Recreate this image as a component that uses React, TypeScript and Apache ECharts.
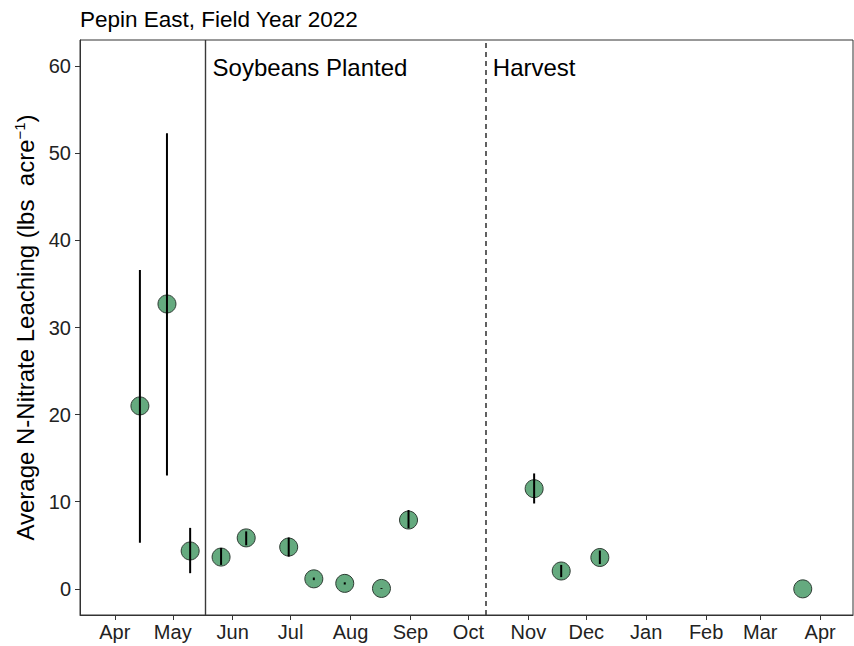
import React, { useEffect, useRef } from "react";
import * as echarts from "echarts";

const titleText = "Pepin East, Field Year 2022";
const sampleDates = [
  "2022-04-14", "2022-04-28", "2022-05-10", "2022-05-26", "2022-06-08",
  "2022-06-30", "2022-07-13", "2022-07-29", "2022-08-17", "2022-08-31",
  "2022-11-04", "2022-11-18", "2022-12-08", "2023-03-23",
];
const meanValues = [21.0, 32.7, 4.35, 3.65, 5.85, 4.8, 1.15, 0.63, 0.05, 7.9, 11.5, 2.05, 3.6, 0.0];
const lowValues = [5.3, 13.0, 1.8, 2.75, 5.0, 3.7, 1.0, 0.5, 0.0, 6.95, 9.8, 1.35, 2.85, 0.0];
const highValues = [36.6, 52.3, 7.0, 4.7, 6.6, 5.9, 1.3, 0.75, 0.1, 9.05, 13.25, 2.75, 4.4, 0.0];
const monthTicks = [
  "2022-04-01", "2022-05-01", "2022-06-01", "2022-07-01", "2022-08-01", "2022-09-01",
  "2022-10-01", "2022-11-01", "2022-12-01", "2023-01-01", "2023-02-01", "2023-03-01", "2023-04-01",
];
const monthNames = ["Jan", "Feb", "Mar", "Apr", "May", "Jun", "Jul", "Aug", "Sep", "Oct", "Nov", "Dec"];
const yTicks = [0, 10, 20, 30, 40, 50, 60];
const xRange = ["2022-03-14", "2023-04-18"];
const yRange = [-3, 63];
const events = [
  { date: "2022-05-18", label: "Soybeans Planted", type: "solid" },
  { date: "2022-10-10", label: "Harvest", type: "dashed" },
];

const ts = (s: string) => {
  const [y, m, d] = s.split("-").map(Number);
  return Date.UTC(y, m - 1, d);
};

export default function App() {
  const ref = useRef<HTMLDivElement>(null);
  useEffect(() => {
    if (!ref.current) return;
    const chart = echarts.init(ref.current, null, { renderer: "svg" });
    const font = "Liberation Sans, Arial, sans-serif";
    const option: any = {
      animation: false,
      backgroundColor: "#ffffff",
      textStyle: { fontFamily: font },
      title: {
        text: titleText,
        left: 75,
        top: 3,
        textStyle: { fontSize: 22.5, fontWeight: "normal", color: "#000", fontFamily: font },
      },
      grid: {
        left: 80, right: 1, top: 40, bottom: 31,
        show: true, borderColor: "#333", borderWidth: 1, backgroundColor: "transparent",
      },
      xAxis: {
        type: "value",
        min: ts(xRange[0]),
        max: ts(xRange[1]),
        splitLine: { show: false },
        axisLine: { show: true, onZero: false, lineStyle: { color: "#333", width: 1 } },
        axisTick: { show: true, length: 5, lineStyle: { color: "#333" }, customValues: monthTicks.map(ts) },
        axisLabel: {
          customValues: monthTicks.map(ts),
          formatter: (v: number) => monthNames[new Date(v).getUTCMonth()],
          fontSize: 20, color: "#222", margin: 7, fontFamily: font,
        },
      },
      yAxis: {
        type: "value",
        min: yRange[0],
        max: yRange[1],
        splitLine: { show: false },
        axisLine: { show: true, onZero: false, lineStyle: { color: "#333", width: 1 } },
        axisTick: { show: true, length: 5, lineStyle: { color: "#333" }, customValues: yTicks },
        axisLabel: { customValues: yTicks, fontSize: 20, color: "#222", margin: 9, fontFamily: font },
        name: "{a|Average N-Nitrate Leaching (lbs  acre}{s|−1}{a|)}",
        nameLocation: "middle",
        nameGap: 31,
        nameTextStyle: {
          rich: {
            a: { fontSize: 24, color: "#000", fontFamily: font, lineHeight: 28 },
            s: { fontSize: 15, color: "#000", fontFamily: font, verticalAlign: "top", lineHeight: 28 },
          },
        },
      },
      series: [
        {
          type: "scatter",
          data: sampleDates.map((d, i) => [ts(d), meanValues[i]]),
          symbol: "circle",
          symbolSize: 18,
          itemStyle: { color: "#65aa7f", borderColor: "#2e3b33", borderWidth: 1, opacity: 1 },
          z: 3,
          markLine: {
            silent: true,
            symbol: ["none", "none"],
            label: { show: false },
            data: events.map((e) => ({
              xAxis: ts(e.date),
              lineStyle: {
                type: e.type === "dashed" ? [5, 4] : "solid",
                color: "#3a3a3a",
                width: e.type === "dashed" ? 1.6 : 1.4,
              },
            })),
          },
        },
        {
          type: "custom",
          z: 5,
          data: sampleDates.map((d, i) => [ts(d), lowValues[i], highValues[i]]),
          renderItem: (params: any, api: any) => {
            const x = api.value(0);
            const p1 = api.coord([x, api.value(1)]);
            const p2 = api.coord([x, api.value(2)]);
            return {
              type: "line",
              shape: { x1: p1[0], y1: p1[1], x2: p2[0], y2: p2[1] },
              style: { stroke: "#000", lineWidth: 2 },
            };
          },
        },
      ],
    };
    chart.setOption(option);
    const graphics = events.map((e) => {
      const p = chart.convertToPixel({ gridIndex: 0 }, [ts(e.date), 60]) as number[];
      return {
        type: "text",
        x: p[0] + 7,
        y: p[1] + 1,
        style: {
          text: e.label,
          fontSize: 24,
          fill: "#000",
          fontFamily: font,
          verticalAlign: "middle",
          align: "left",
        },
      };
    });
    chart.setOption({ graphic: graphics });
    return () => chart.dispose();
  }, []);
  return (
    <div
      ref={ref}
      style={{ position: "fixed", left: 0, top: 0, width: 854, height: 646 }}
    />
  );
}
